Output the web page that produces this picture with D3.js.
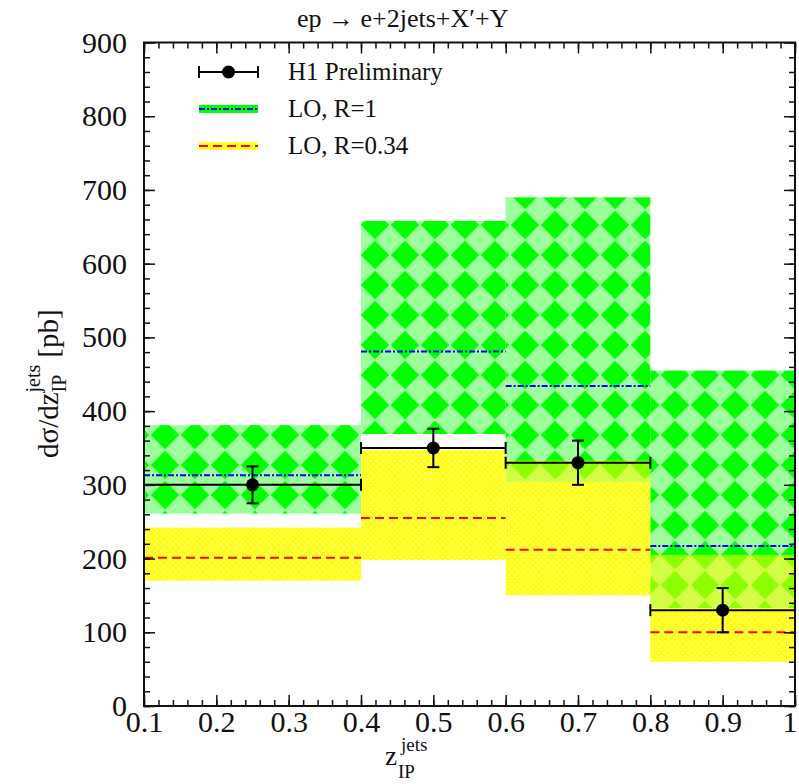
<!DOCTYPE html>
<html>
<head>
<meta charset="utf-8">
<script src="https://cdn.jsdelivr.net/npm/d3@7"></script>
<style>
  body { margin: 0; background: #fff; }
  svg { display: block; }
  text { font-family: "Liberation Serif", "DejaVu Serif", serif; fill: #111; }
</style>
</head>
<body>
<div id="chart"></div>
<script>
// Set dimensions and margins for the plot
const width = 799;
const height = 784;
const margin = {left: 144, right: 4, top: 42.5, bottom: 78};

// Bins in z_IP^jets
const binLo = [0.1, 0.4, 0.6, 0.8];
const binHi = [0.4, 0.6, 0.8, 1.0];

// H1 preliminary data points
const h1X = [0.25, 0.5, 0.7, 0.9];
const h1Val = [300, 350, 330, 130];
const h1Err = [25, 26, 30, 30];

// LO, R=1 band (green) and central value (blue)
const r1Lo = [261, 369, 304, 133];
const r1Hi = [381, 658, 690, 455];
const r1Mid = [313, 481, 434, 217];

// LO, R=0.34 band (yellow) and central value (red)
const r2Lo = [170, 198, 150, 60];
const r2Hi = [242, 347, 333, 205];
const r2Mid = [201, 255, 212, 100];

// Axis ticks
const xTicks = [0.1, 0.2, 0.3, 0.4, 0.5, 0.6, 0.7, 0.8, 0.9, 1];
const yTicks = [0, 100, 200, 300, 400, 500, 600, 700, 800, 900];
const xMinor = d3.range(0.1, 1.0001, 0.02);
const yMinor = d3.range(0, 901, 20);

const legendLabels = ["H1 Preliminary", "LO, R=1", "LO, R=0.34"];

const svg = d3.select("#chart")
  .append("svg")
  .attr("width", width)
  .attr("height", height);

const xScale = d3.scaleLinear().domain([0.1, 1]).range([margin.left, width - margin.right]);
const yScale = d3.scaleLinear().domain([0, 900]).range([height - margin.bottom, margin.top]);

// Patterns: green diamond checkerboard and yellow hatch
const defs = svg.append("defs");
const diam = defs.append("pattern")
  .attr("id", "diamonds").attr("patternUnits", "userSpaceOnUse")
  .attr("width", 30).attr("height", 30);
diam.append("rect").attr("width", 30).attr("height", 30).attr("fill", "#9cff9c");
diam.append("polygon").attr("points", "15,0.8 29.2,15 15,29.2 0.8,15").attr("fill", "#00ff00");

const hatch = defs.append("pattern")
  .attr("id", "hatch").attr("patternUnits", "userSpaceOnUse")
  .attr("width", 6).attr("height", 6);
hatch.append("rect").attr("width", 6).attr("height", 6).attr("fill", "#ffff1a");
hatch.append("rect").attr("x", 1).attr("y", 1).attr("width", 1.5).attr("height", 1.5).attr("fill", "#ffffb0");
hatch.append("rect").attr("x", 4).attr("y", 4).attr("width", 1.5).attr("height", 1.5).attr("fill", "#ffffb0");

const bins = d3.range(binLo.length);

// Green bands
svg.append("g").selectAll("rect")
  .data(bins).enter().append("rect")
  .attr("x", i => xScale(binLo[i]))
  .attr("y", i => yScale(r1Hi[i]))
  .attr("width", i => xScale(binHi[i]) - xScale(binLo[i]))
  .attr("height", i => yScale(r1Lo[i]) - yScale(r1Hi[i]))
  .attr("fill", "url(#diamonds)");

// Yellow bands: hatch outside green, translucent yellow over green
svg.append("g").selectAll("rect")
  .data(bins).enter().append("rect")
  .attr("x", i => xScale(binLo[i]))
  .attr("y", i => yScale(Math.min(r2Hi[i], r1Lo[i])))
  .attr("width", i => xScale(binHi[i]) - xScale(binLo[i]))
  .attr("height", i => yScale(r2Lo[i]) - yScale(Math.min(r2Hi[i], r1Lo[i])))
  .attr("fill", "url(#hatch)");
svg.append("g").selectAll("rect")
  .data(bins.filter(i => r2Hi[i] > r1Lo[i])).enter().append("rect")
  .attr("x", i => xScale(binLo[i]))
  .attr("y", i => yScale(r2Hi[i]))
  .attr("width", i => xScale(binHi[i]) - xScale(binLo[i]))
  .attr("height", i => yScale(r1Lo[i]) - yScale(r2Hi[i]))
  .attr("fill", "#ffff00").attr("fill-opacity", 0.55);

// Central lines
svg.append("g").selectAll("line")
  .data(bins).enter().append("line")
  .attr("x1", i => xScale(binLo[i])).attr("x2", i => xScale(binHi[i]))
  .attr("y1", i => yScale(r1Mid[i])).attr("y2", i => yScale(r1Mid[i]))
  .attr("stroke", "#0000ff").attr("stroke-width", 2)
  .attr("stroke-dasharray", "6,2,2,2");

svg.append("g").selectAll("line")
  .data(bins).enter().append("line")
  .attr("x1", i => xScale(binLo[i])).attr("x2", i => xScale(binHi[i]))
  .attr("y1", i => yScale(r2Mid[i])).attr("y2", i => yScale(r2Mid[i]))
  .attr("stroke", "#ff0000").attr("stroke-width", 2)
  .attr("stroke-dasharray", "9,5");

// Data points with error bars
const pts = svg.append("g").attr("stroke", "#000").attr("stroke-width", 2);
bins.forEach(i => {
  const x0 = xScale(binLo[i]), x1 = xScale(binHi[i]);
  const cx = xScale(h1X[i]), cy = yScale(h1Val[i]);
  const yt = yScale(h1Val[i] + h1Err[i]), yb = yScale(h1Val[i] - h1Err[i]);
  pts.append("line").attr("x1", x0).attr("x2", x1).attr("y1", cy).attr("y2", cy);
  pts.append("line").attr("x1", x0).attr("x2", x0).attr("y1", cy - 6).attr("y2", cy + 6);
  pts.append("line").attr("x1", x1).attr("x2", x1).attr("y1", cy - 6).attr("y2", cy + 6);
  pts.append("line").attr("x1", cx).attr("x2", cx).attr("y1", yt).attr("y2", yb);
  pts.append("line").attr("x1", cx - 6).attr("x2", cx + 6).attr("y1", yt).attr("y2", yt);
  pts.append("line").attr("x1", cx - 6).attr("x2", cx + 6).attr("y1", yb).attr("y2", yb);
  pts.append("circle").attr("cx", cx).attr("cy", cy).attr("r", 6.5).attr("fill", "#000").attr("stroke", "none");
});

// Axes: ticks point inward on all four sides
const plotW = width - margin.right - margin.left;
const plotH = height - margin.bottom - margin.top;
const axes = [
  {ax: d3.axisLeft, tr: `translate(${margin.left},0)`, s: yScale, major: yTicks, minor: yMinor, label: true},
  {ax: d3.axisRight, tr: `translate(${width - margin.right},0)`, s: yScale, major: yTicks, minor: yMinor, label: false},
  {ax: d3.axisBottom, tr: `translate(0,${height - margin.bottom})`, s: xScale, major: xTicks, minor: xMinor, label: true},
  {ax: d3.axisTop, tr: `translate(0,${margin.top})`, s: xScale, major: xTicks, minor: xMinor, label: false}
];
axes.forEach(a => {
  svg.append("g").attr("transform", a.tr)
    .call(a.ax(a.s).tickValues(a.minor).tickSize(-6).tickFormat(""))
    .call(g => g.select(".domain").remove())
    .call(g => g.selectAll("line").attr("stroke", "#111").attr("stroke-width", 1.5));
  const g = svg.append("g").attr("transform", a.tr)
    .call(a.ax(a.s).tickValues(a.major).tickSize(-11).tickPadding(a.ax === d3.axisLeft ? 17 : 5)
      .tickFormat(a.label ? (a.s === xScale ? d3.format("") : d3.format("d")) : ""))
    .call(g => g.select(".domain").remove())
    .call(g => g.selectAll("line").attr("stroke", "#111").attr("stroke-width", 1.5));
  g.selectAll("text")
    .attr("font-family", "Liberation Serif")
    .attr("font-size", 30)
    .attr("fill", "#333");
  if (a.ax === d3.axisBottom) {
    // the last label sits against the right edge of the page
    g.selectAll("text").filter(d => d === 1).attr("text-anchor", "end").attr("dx", 2);
  }
});

// Frame
svg.append("rect")
  .attr("x", margin.left).attr("y", margin.top)
  .attr("width", plotW).attr("height", plotH)
  .attr("fill", "none").attr("stroke", "#111").attr("stroke-width", 2);

// Title
svg.append("text")
  .attr("x", 297).attr("y", 27)
  .attr("font-size", 26)
  .text("ep \u2192 e+2jets+X\u2032+Y");

// Legend
const lx0 = 199, lx1 = 258, ly = [72, 109, 146], ltx = 288;
const leg = svg.append("g");
leg.append("line").attr("x1", lx0).attr("x2", lx1).attr("y1", ly[0]).attr("y2", ly[0]).attr("stroke", "#000").attr("stroke-width", 2);
leg.append("line").attr("x1", lx0).attr("x2", lx0).attr("y1", ly[0] - 6).attr("y2", ly[0] + 6).attr("stroke", "#000").attr("stroke-width", 2);
leg.append("line").attr("x1", lx1).attr("x2", lx1).attr("y1", ly[0] - 6).attr("y2", ly[0] + 6).attr("stroke", "#000").attr("stroke-width", 2);
leg.append("circle").attr("cx", (lx0 + lx1) / 2).attr("cy", ly[0]).attr("r", 6.5).attr("fill", "#000");
leg.append("rect").attr("x", lx0).attr("y", ly[1] - 4).attr("width", lx1 - lx0).attr("height", 8).attr("fill", "#00ff00");
leg.append("line").attr("x1", lx0).attr("x2", lx1).attr("y1", ly[1]).attr("y2", ly[1])
  .attr("stroke", "#0000ff").attr("stroke-width", 2).attr("stroke-dasharray", "6,2,2,2");
leg.append("rect").attr("x", lx0).attr("y", ly[2] - 4).attr("width", lx1 - lx0).attr("height", 8).attr("fill", "url(#hatch)");
leg.append("line").attr("x1", lx0).attr("x2", lx1).attr("y1", ly[2]).attr("y2", ly[2])
  .attr("stroke", "#ff0000").attr("stroke-width", 2).attr("stroke-dasharray", "9,5");
leg.selectAll("text.lab").data(legendLabels).enter().append("text")
  .attr("x", ltx).attr("y", (d, i) => ly[i] + 8)
  .attr("font-size", 25)
  .text(d => d);

// X axis label: z_IP^jets
svg.append("text").attr("x", 385).attr("y", 765).attr("font-size", 27).text("z");
svg.append("text").attr("x", 398).attr("y", 778).attr("font-size", 19).text("IP");
svg.append("text").attr("x", 401).attr("y", 751).attr("font-size", 19).text("jets");

// Y axis label: dσ/dz_IP^jets [pb], rotated
const yl = svg.append("g").attr("transform", "translate(58,458) rotate(-90)");
const t1 = yl.append("text").attr("x", 0).attr("y", 0).attr("font-size", 29).text("d\u03c3/dz");
const w1 = t1.node().getComputedTextLength();
const t2 = yl.append("text").attr("x", w1).attr("y", 8).attr("font-size", 20).text("IP");
const t3 = yl.append("text").attr("x", w1).attr("y", -18).attr("font-size", 20).text("jets");
const w2 = Math.max(t2.node().getComputedTextLength(), t3.node().getComputedTextLength());
yl.append("text").attr("x", w1 + w2 + 7).attr("y", 0).attr("font-size", 29).text("[pb]");
</script>
</body>
</html>
